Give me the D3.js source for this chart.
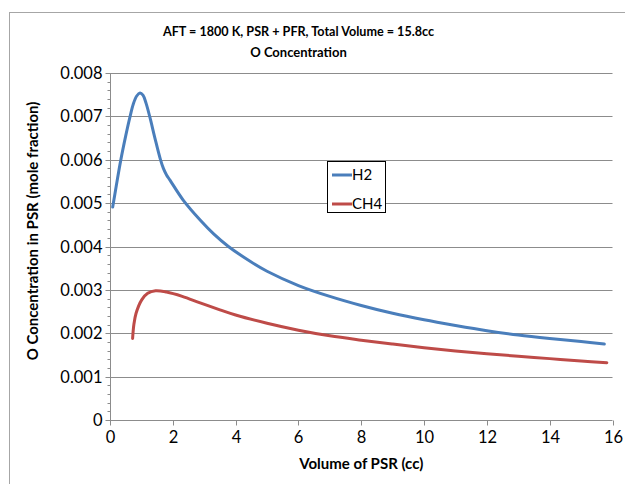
<!DOCTYPE html>
<html><head><meta charset="utf-8">
<script src="https://cdn.jsdelivr.net/npm/d3@7"></script>
<style>html,body{margin:0;padding:0;background:#fff;}svg{display:block;}</style>
</head><body>
<script>
const titleLines = ["AFT = 1800 K, PSR + PFR, Total Volume = 15.8cc", "O Concentration"];
const xTitle = "Volume of PSR (cc)";
const yTitle = "O Concentration in PSR (mole fraction)";
const xTicks = [0, 2, 4, 6, 8, 10, 12, 14, 16];
const yTicks = [0, 0.001, 0.002, 0.003, 0.004, 0.005, 0.006, 0.007, 0.008];
const seriesNames = ["H2", "CH4"];
const h2X = [0.086,0.2,0.34,0.5,0.64,0.74,0.85,0.955,1.05,1.15,1.27,1.43,1.6,1.7,1.8,1.91,2.33,2.87,3.3,3.77,4.46,5,6,7,8,9,10,11,12,13,14,15,15.74];
const h2Y = [0.00491,0.0054,0.00598,0.00655,0.0070,0.00728,0.00747,0.00754,0.00749,0.0073,0.00698,0.0065,0.00602,0.0058,0.00565,0.00553,0.00507,0.00461,0.00429,0.0040,0.00366,0.00343,0.0031,0.00285,0.00264,0.00246,0.00231,0.00218,0.00206,0.00196,0.00188,0.00181,0.00175];
const ch4X = [0.72,0.76,0.83,1.01,1.2,1.45,1.8,2.3,2.87,3.5,4,5,6,7,8,9,10,11,12,13,14,15,15.82];
const ch4Y = [0.00188,0.0022,0.00246,0.00277,0.00292,0.00298,0.00295,0.00285,0.0027,0.00254,0.00242,0.00223,0.00207,0.00194,0.00184,0.00175,0.001665,0.00159,0.001525,0.00147,0.001415,0.00136,0.00132];
const colors = ["#4a7ebb", "#be4b48"];

const W = 625, H = 484;
const svg = d3.select("body").append("svg").attr("width", W).attr("height", H);
const font = "Lato, 'Open Sans', sans-serif";

// chart frame
svg.append("rect").attr("x", 9.5).attr("y", 12.5).attr("width", 800).attr("height", 600)
  .attr("fill", "none").attr("stroke", "#a6a6a6").attr("stroke-width", 1);

const x = d3.scaleLinear().domain([0, 16]).range([110, 612.5]);
const y = d3.scaleLinear().domain([0, 0.008]).range([420, 73]);
const gridColor = "#8c8c8c";

// gridlines
svg.append("g").selectAll("line").data(yTicks.filter(d => d > 0)).join("line")
  .attr("x1", x(0)).attr("x2", x(16))
  .attr("y1", d => Math.round(y(d)) + 0.5).attr("y2", d => Math.round(y(d)) + 0.5)
  .attr("stroke", gridColor).attr("stroke-width", 1);

// y axis (minor + major)
const yMinor = d3.range(0, 0.00801, 0.0002);
const gy = svg.append("g").attr("transform", `translate(${Math.round(x(0)) + 0.5},0)`)
  .call(d3.axisLeft(y).tickValues(yMinor).tickSize(3).tickFormat(""));
gy.selectAll("line").attr("stroke", gridColor);
gy.select(".domain").attr("stroke", gridColor).attr("d", `M0,${y(0.008)}V${y(0)}`);
gy.selectAll(".tick").attr("transform", d => `translate(0,${Math.round(y(d)) + 0.5})`);
const gyMaj = svg.append("g").attr("transform", `translate(${Math.round(x(0)) + 0.5},0)`)
  .call(d3.axisLeft(y).tickValues(yTicks).tickSize(5).tickPadding(3).tickFormat(d => d === 0 ? "0" : d3.format(".3f")(d)));
gyMaj.select(".domain").remove();
gyMaj.selectAll(".tick").attr("transform", d => `translate(0,${Math.round(y(d)) + 0.5})`);
gyMaj.selectAll("line").attr("stroke", gridColor);
gyMaj.selectAll("text").attr("font-family", font).attr("font-size", 16.5).attr("fill", "#000");

// x axis
const gx = svg.append("g").attr("transform", `translate(0,${Math.round(y(0)) + 0.5})`)
  .call(d3.axisBottom(x).tickValues(xTicks).tickSize(5).tickPadding(6).tickFormat(d3.format("d")));
gx.select(".domain").attr("stroke", gridColor).attr("d", `M${x(0)},0H${x(16)}`);
gx.selectAll("line").attr("stroke", gridColor);
gx.selectAll(".tick").attr("transform", d => `translate(${Math.round(x(d)) + 0.5},0)`);
gx.selectAll("text").attr("font-family", font).attr("font-size", 16.5).attr("fill", "#000");

// lines
const line = d3.line().x(d => x(d[0])).y(d => y(d[1])).curve(d3.curveCatmullRom.alpha(0.5));
const series = [d3.zip(h2X, h2Y), d3.zip(ch4X, ch4Y)];
svg.append("g").selectAll("path").data(series).join("path")
  .attr("d", line).attr("fill", "none")
  .attr("stroke", (d, i) => colors[i]).attr("stroke-width", 3)
  .attr("stroke-linecap", "round").attr("stroke-linejoin", "round");

// titles
svg.append("text").attr("x", 298.5).attr("y", 35.5).attr("text-anchor", "middle")
  .attr("font-family", font).attr("font-weight", "bold").attr("font-size", 12.6).text(titleLines[0]);
svg.append("text").attr("x", 298.5).attr("y", 57).attr("text-anchor", "middle")
  .attr("font-family", font).attr("font-weight", "bold").attr("font-size", 13).text(titleLines[1]);
svg.append("text").attr("x", x(8)).attr("y", 469).attr("text-anchor", "middle")
  .attr("font-family", font).attr("font-weight", "bold").attr("font-size", 15).text(xTitle);
svg.append("text").attr("transform", "translate(38,231) rotate(-90)").attr("text-anchor", "middle")
  .attr("font-family", font).attr("font-weight", "bold").attr("font-size", 15).text(yTitle);

// legend
const lg = svg.append("g");
lg.append("rect").attr("x", 327.5).attr("y", 161.5).attr("width", 58).attr("height", 51)
  .attr("fill", "#fff").attr("stroke", "#000").attr("stroke-width", 1);
seriesNames.forEach((n, i) => {
  const cy = 175 + i * 29;
  lg.append("line").attr("x1", 332).attr("x2", 352).attr("y1", cy).attr("y2", cy)
    .attr("stroke", colors[i]).attr("stroke-width", 3);
  lg.append("text").attr("x", 352).attr("y", cy + 1).attr("dominant-baseline", "middle")
    .attr("font-family", font).attr("font-size", 15).text(n);
});
</script>
</body></html>
